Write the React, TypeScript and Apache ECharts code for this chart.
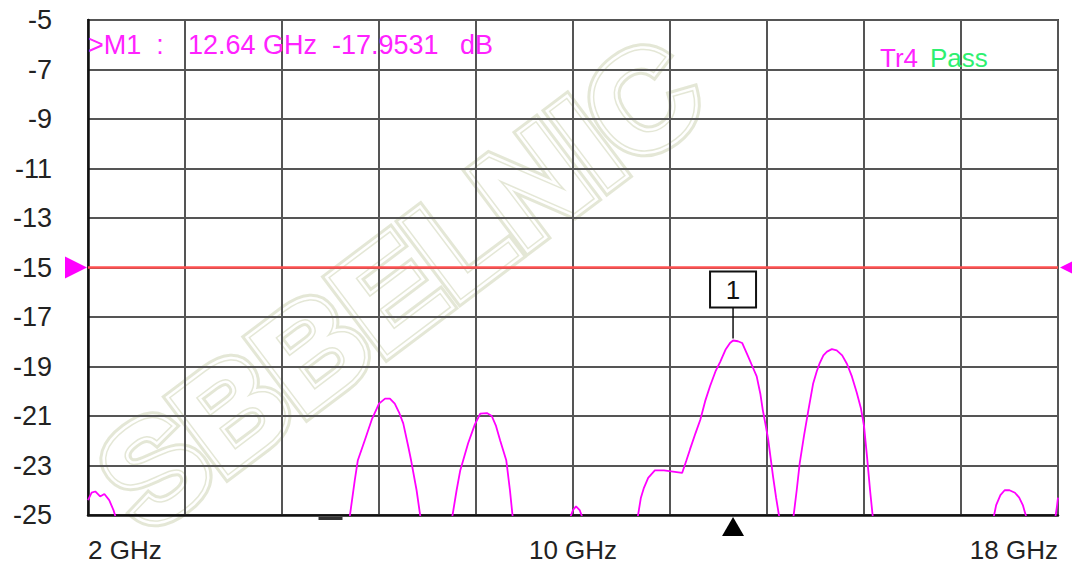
import React, { useEffect, useRef } from "react";
import * as echarts from "echarts";

const FONT = '"Liberation Sans", Arial, sans-serif';

// Frequency axis (GHz) and level axis (dB)
const xMinGHz = 2;
const xMaxGHz = 18;
const xStepGHz = 1.6;
const xLabelValues = [2, 10, 18];
const yMinDb = -25;
const yMaxDb = -5;
const yStepDb = 2;

// Trace Tr4 (null = trace below the display floor)
const traceFreqGHz = [
  2.0, 2.06, 2.12, 2.2, 2.27, 2.35, 2.42, 2.47,
  4.0,
  6.31, 6.4, 6.45, 6.57, 6.68, 6.8, 6.9, 6.98, 7.06, 7.13, 7.2, 7.28, 7.33, 7.42, 7.49,
  7.8,
  8.0, 8.08, 8.14, 8.27, 8.38, 8.47, 8.58, 8.66, 8.73, 8.8, 8.9, 8.96, 9.01,
  9.5,
  9.94, 10.0, 10.05, 10.11, 10.17,
  10.6,
  11.06, 11.12, 11.17, 11.24, 11.35, 11.5, 11.65, 11.8, 11.87, 11.93, 12.02, 12.1, 12.18, 12.26,
  12.35, 12.43, 12.52, 12.59, 12.64, 12.72, 12.79, 12.89, 12.96, 13.03, 13.09, 13.13, 13.18,
  13.22, 13.26, 13.3, 13.35, 13.41,
  13.5,
  13.63, 13.69, 13.74, 13.81, 13.88, 13.96, 14.02, 14.07, 14.13, 14.19, 14.27, 14.35, 14.44,
  14.52, 14.6, 14.68, 14.75, 14.8, 14.85, 14.9, 14.95,
  16.0,
  16.93, 16.98, 17.05, 17.12, 17.2, 17.29, 17.36, 17.42, 17.49,
  17.8,
  17.95, 17.98, 18.0,
];
const traceLevelDb: (number | null)[] = [
  -24.4, -24.1, -24.05, -24.25, -24.15, -24.4, -24.8, -25.2,
  null,
  -25.2, -23.6, -22.8, -21.95, -21.15, -20.5, -20.3, -20.3, -20.5, -20.85, -21.3, -22.2, -22.8, -24.0, -25.2,
  null,
  -25.2, -24.0, -23.2, -22.1, -21.35, -20.9, -20.88, -21.0, -21.4, -22.0, -22.8, -24.0, -25.2,
  null,
  -25.2, -24.8, -24.65, -24.8, -25.2,
  null,
  -25.2, -24.3, -23.9, -23.5, -23.2, -23.2, -23.25, -23.3, -22.8, -22.35, -21.7, -21.15, -20.4, -19.8,
  -19.2, -18.8, -18.3, -18.05, -17.95, -17.98, -18.05, -18.6, -19.0, -19.4, -20.1, -20.75, -21.4,
  -21.95, -22.7, -23.45, -24.3, -25.2,
  null,
  -25.2, -24.0, -22.9, -21.8, -20.8, -19.7, -19.2, -18.86, -18.55, -18.4, -18.3, -18.35, -18.55,
  -18.9, -19.4, -20.05, -20.7, -21.4, -22.65, -24.0, -25.2,
  null,
  -25.2, -24.6, -24.2, -24.0, -24.0, -24.1, -24.3, -24.6, -25.2,
  null,
  -25.2, -24.7, -24.3,
];

// Limit line
const limitFreqGHz = [2, 18];
const limitLevelDb = [-15, -15];

// Marker M1
const markerFreqGHz = 12.64;
const markerLevelDb = -17.9531;
const markerLabel = "1";

// Small stimulus indicator on the bottom edge
const indicatorFreqGHz = 6.0;

const WM_TEXT = "SBBELNIC";
const WM_X = 400;
const WM_Y = 284;
const WM_SIZE = 138;
const WM_ROT = (37 * Math.PI) / 180;

function watermarkLayer(z: number, fill: string, stroke: string, lineWidth: number) {
  return {
    type: "text",
    x: WM_X,
    y: WM_Y,
    rotation: WM_ROT,
    z,
    silent: true,
    style: {
      text: WM_TEXT,
      fontSize: WM_SIZE,
      fontFamily: FONT,
      fontWeight: "bold",
      align: "center",
      verticalAlign: "middle",
      fill,
      stroke,
      lineWidth,
    },
  };
}

export default function App() {
  const ref = useRef<HTMLDivElement>(null);

  useEffect(() => {
    document.body.style.margin = "0";
    if (!ref.current) return;
    const chart = echarts.init(ref.current, undefined, { renderer: "svg" });

    const traceData = traceFreqGHz.map((f, i) => [f, traceLevelDb[i]]);
    const limitData = limitFreqGHz.map((f, i) => [f, limitLevelDb[i]]);

    const option: any = {
      animation: false,
      backgroundColor: "#ffffff",
      grid: {
        left: 88,
        right: 14,
        top: 20,
        bottom: 52,
        show: true,
        borderColor: "#444",
        borderWidth: 2,
        backgroundColor: "transparent",
        z: 3,
      },
      graphic: [
        watermarkLayer(-10, "transparent", "#e4e7d6", 14),
        watermarkLayer(-9, "#ffffff", "#ffffff", 8),
        watermarkLayer(-8, "#ffffff", "#e4e7d6", 3),
        {
          type: "text",
          left: 88,
          top: 31,
          z: 20,
          style: { text: ">M1  :", fontSize: 27, fontFamily: FONT, fill: "#ff22ff" },
        },
        {
          type: "text",
          left: 188,
          top: 31,
          z: 20,
          style: { text: "12.64 GHz", fontSize: 27, fontFamily: FONT, fill: "#ff22ff" },
        },
        {
          type: "text",
          left: 332,
          top: 31,
          z: 20,
          style: { text: "-17.9531", fontSize: 27, fontFamily: FONT, fill: "#ff22ff" },
        },
        {
          type: "text",
          left: 460,
          top: 31,
          z: 20,
          style: { text: "dB", fontSize: 27, fontFamily: FONT, fill: "#ff22ff" },
        },
        {
          type: "text",
          left: 880,
          top: 45,
          z: 20,
          style: { text: "Tr4", fontSize: 26, fontFamily: FONT, fill: "#ff22ff" },
        },
        {
          type: "text",
          left: 930,
          top: 45,
          z: 20,
          style: { text: "Pass", fontSize: 26, fontFamily: FONT, fill: "#2ef070" },
        },
      ],
      xAxis: {
        type: "value",
        min: xMinGHz,
        max: xMaxGHz,
        interval: xStepGHz,
        axisLine: { show: true, onZero: false, lineStyle: { color: "#111", width: 2.5 } },
        axisTick: { show: false },
        splitLine: { show: true, lineStyle: { color: "#555", width: 2 } },
        axisLabel: {
          margin: 22,
          fontSize: 26,
          fontFamily: FONT,
          color: "#222",
          showMinLabel: true,
          showMaxLabel: true,
          alignMinLabel: "left",
          alignMaxLabel: "right",
          formatter: (v: number) => {
            const hit = xLabelValues.find((t) => Math.abs(t - v) < 0.01);
            return hit !== undefined ? `${hit} GHz` : "";
          },
        },
        z: 4,
      },
      yAxis: {
        type: "value",
        min: yMinDb,
        max: yMaxDb,
        interval: yStepDb,
        axisLine: { show: true, onZero: false, lineStyle: { color: "#111", width: 2.5 } },
        axisTick: { show: false },
        splitLine: { show: true, lineStyle: { color: "#555", width: 2 } },
        axisLabel: {
          margin: 36,
          fontSize: 27,
          fontFamily: FONT,
          color: "#222",
          formatter: (v: number) => `${Math.round(v)}`,
        },
        z: 4,
      },
      series: [
        {
          name: "Limit",
          type: "line",
          data: limitData,
          symbol: "none",
          lineStyle: { color: "#ff5050", width: 2.5 },
          z: 5,
        },
        {
          name: "Tr4",
          type: "line",
          data: traceData,
          symbol: "none",
          connectNulls: false,
          clip: true,
          lineStyle: { color: "#ff00ff", width: 1.8 },
          z: 6,
        },
        {
          name: "LimitArrows",
          type: "custom",
          data: limitData.map((d, i) => [d[0], d[1], i === 0 ? 1 : -1]),
          clip: false,
          z: 7,
          renderItem: (params: any, api: any) => {
            const p = api.coord([api.value(0), api.value(1)]);
            const dir = api.value(2);
            const tipX = dir > 0 ? p[0] - 1 : p[0] + 2;
            const baseX = dir > 0 ? p[0] - 23 : p[0] + 24;
            return {
              type: "polygon",
              shape: {
                points: [
                  [tipX, p[1]],
                  [baseX, p[1] - 11],
                  [baseX, p[1] + 11],
                ],
              },
              style: { fill: "#ff00ff" },
            };
          },
        },
        {
          name: "Indicator",
          type: "custom",
          data: [[indicatorFreqGHz, yMinDb]],
          clip: false,
          z: 7,
          renderItem: (params: any, api: any) => {
            const p = api.coord([api.value(0), api.value(1)]);
            return {
              type: "rect",
              shape: { x: p[0] - 12, y: p[1] + 2, width: 24, height: 3 },
              style: { fill: "#333" },
            };
          },
        },
        {
          name: "M1",
          type: "custom",
          data: [[markerFreqGHz, markerLevelDb]],
          clip: false,
          z: 8,
          renderItem: (params: any, api: any) => {
            const p = api.coord([api.value(0), api.value(1)]);
            const bottom = api.coord([api.value(0), yMinDb]);
            return {
              type: "group",
              children: [
                {
                  type: "line",
                  shape: { x1: p[0], y1: p[1] - 2, x2: p[0], y2: p[1] - 33 },
                  style: { stroke: "#111", lineWidth: 1.5 },
                },
                {
                  type: "rect",
                  shape: { x: p[0] - 23, y: p[1] - 69, width: 46, height: 36 },
                  style: { fill: "#fff", stroke: "#111", lineWidth: 2 },
                },
                {
                  type: "text",
                  style: {
                    text: markerLabel,
                    x: p[0],
                    y: p[1] - 51,
                    align: "center",
                    verticalAlign: "middle",
                    fontSize: 26,
                    fontFamily: FONT,
                    fill: "#111",
                  },
                },
                {
                  type: "polygon",
                  shape: {
                    points: [
                      [p[0], bottom[1] + 2],
                      [p[0] - 11, bottom[1] + 21],
                      [p[0] + 11, bottom[1] + 21],
                    ],
                  },
                  style: { fill: "#000" },
                },
              ],
            };
          },
        },
      ],
    };

    chart.setOption(option);
    return () => chart.dispose();
  }, []);

  return <div ref={ref} style={{ width: 1072, height: 567 }} />;
}
